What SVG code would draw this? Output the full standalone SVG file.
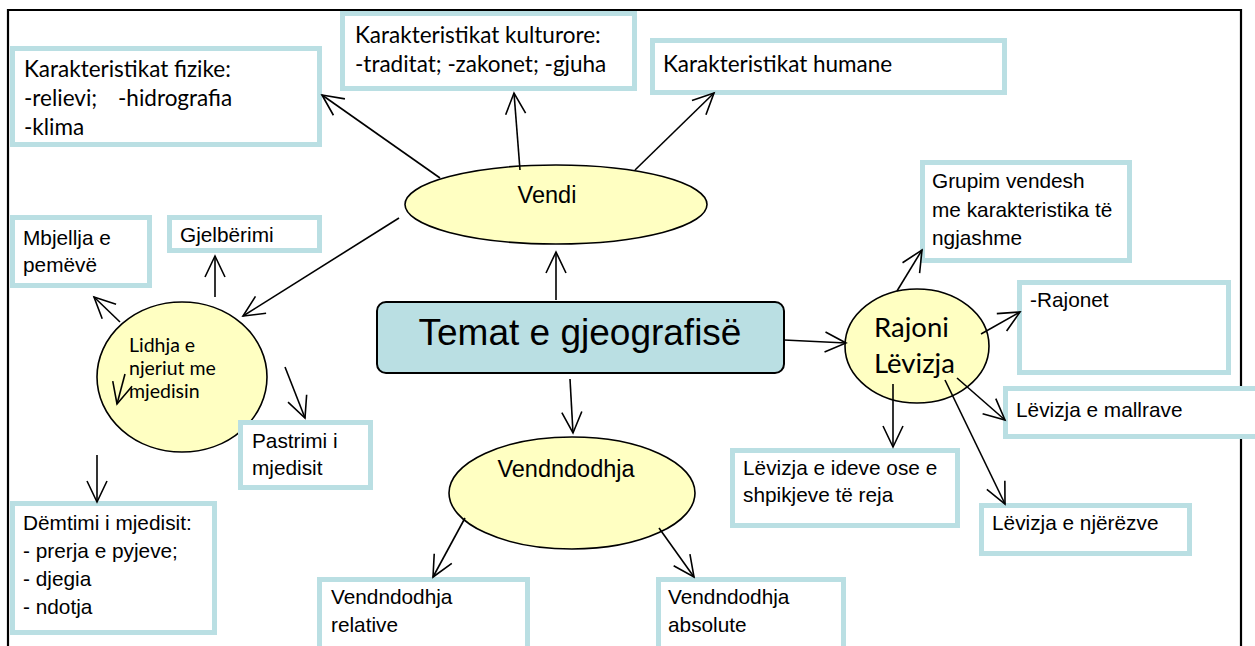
<svg xmlns="http://www.w3.org/2000/svg" width="1255" height="646" viewBox="0 0 1255 646">
<style>
.box{fill:#ffffff;stroke:#badfe3;stroke-width:5}
.ell{fill:#ffffc2;stroke:#000;stroke-width:1.6}
.ar{font-family:"Liberation Sans",Arial,sans-serif;fill:#000}
.ca{font-family:"Lato","Open Sans",sans-serif;fill:#000}
.con line{stroke:#000;stroke-width:1.6;fill:none}
.frame{stroke:#000;stroke-width:2.2;fill:none}
</style>
<defs>
<marker id="ah" markerUnits="userSpaceOnUse" markerWidth="30" markerHeight="30" refX="0" refY="0" orient="auto" overflow="visible">
<path d="M-21,-10 L0,0 L-21,10" fill="none" stroke="#000" stroke-width="1.6"/>
</marker>
</defs>
<rect width="1255" height="646" fill="#fff"/>
<path class="frame" d="M8,646 V10 H1241 V646"/>

<g id="n-fizike">
<rect class="box" x="12.5" y="48.5" width="307" height="96"/>
<text class="ca" font-size="22.5" x="24" y="77">Karakteristikat fizike:</text>
<text class="ca" font-size="22.5" y="106"><tspan x="24">-relievi;</tspan><tspan x="118">-hidrografia</tspan></text>
<text class="ca" font-size="22.5" x="24" y="135">-klima</text>
</g>
<g id="n-kulturore">
<rect class="box" x="342.5" y="13.5" width="292" height="75"/>
<text class="ca" font-size="22.5" x="355" y="43">Karakteristikat kulturore:</text>
<text class="ca" font-size="22.5" x="355" y="72">-traditat; -zakonet; -gjuha</text>
</g>
<g id="n-humane">
<rect class="box" x="652.5" y="40.5" width="352" height="52"/>
<text class="ca" font-size="22.5" x="663" y="72">Karakteristikat humane</text>
</g>
<g id="n-vendi">
<ellipse class="ell" cx="556" cy="204.5" rx="151" ry="39.5"/>
<text class="ar" font-size="23.5" x="547" y="203" text-anchor="middle">Vendi</text>
</g>
<g id="n-mbjellja">
<rect class="box" x="12.5" y="217.5" width="137" height="68"/>
<text class="ar" font-size="20.8" x="23" y="245">Mbjellja e</text>
<text class="ar" font-size="20.8" x="23" y="272">pemëvë</text>
</g>
<g id="n-gjelberimi">
<rect class="box" x="169.5" y="217.5" width="150" height="33"/>
<text class="ar" font-size="20.8" x="180" y="242">Gjelbërimi</text>
</g>
<g id="n-lidhja">
<ellipse class="ell" cx="182" cy="377" rx="85" ry="75"/>
<text class="ca" font-size="19.5" x="129" y="352">Lidhja e</text>
<text class="ca" font-size="19.5" x="129" y="375">njeriut me</text>
<text class="ca" font-size="19.5" x="129" y="398">mjedisin</text>
</g>
<g id="n-pastrimi">
<rect class="box" x="240.5" y="422.5" width="130" height="65"/>
<text class="ar" font-size="20.8" x="252" y="448">Pastrimi i</text>
<text class="ar" font-size="20.8" x="252" y="475">mjedisit</text>
</g>
<g id="n-demtimi">
<rect class="box" x="12.5" y="503.5" width="202" height="129"/>
<text class="ar" font-size="20.8" x="23" y="530">Dëmtimi i mjedisit:</text>
<text class="ar" font-size="20.8" x="23" y="558">- prerja e pyjeve;</text>
<text class="ar" font-size="20.8" x="23" y="586">- djegia</text>
<text class="ar" font-size="20.8" x="23" y="614">- ndotja</text>
</g>
<g id="n-temat">
<rect x="377" y="302" width="407" height="71" rx="9" fill="#badfe3" stroke="#000" stroke-width="2"/>
<text class="ar" font-size="37" x="580" y="345" text-anchor="middle">Temat e gjeografisë</text>
</g>
<g id="n-vendndodhja">
<ellipse class="ell" cx="572" cy="493" rx="123" ry="56"/>
<text class="ar" font-size="23.5" x="566" y="477" text-anchor="middle">Vendndodhja</text>
</g>
<g id="n-relative">
<rect class="box" x="319.5" y="579.5" width="208" height="80"/>
<text class="ar" font-size="20.8" x="331" y="604">Vendndodhja</text>
<text class="ar" font-size="20.8" x="331" y="632">relative</text>
</g>
<g id="n-absolute">
<rect class="box" x="658.5" y="579.5" width="185" height="80"/>
<text class="ar" font-size="20.8" x="668" y="604">Vendndodhja</text>
<text class="ar" font-size="20.8" x="668" y="632">absolute</text>
</g>
<g id="n-rajoni">
<ellipse class="ell" cx="917" cy="346" rx="72" ry="57"/>
<text class="ca" font-size="27.5" x="874" y="337">Rajoni</text>
<text class="ca" font-size="27.5" x="874" y="373">Lëvizja</text>
</g>
<g id="n-grupim">
<rect class="box" x="922.5" y="162.5" width="207" height="98"/>
<text class="ar" font-size="20.8" x="932" y="188">Grupim vendesh</text>
<text class="ar" font-size="20.8" x="932" y="217">me karakteristika të</text>
<text class="ar" font-size="20.8" x="932" y="245">ngjashme</text>
</g>
<g id="n-rajonet">
<rect class="box" x="1019.5" y="282.5" width="209" height="90"/>
<text class="ar" font-size="20.8" x="1030" y="307">-Rajonet</text>
</g>
<g id="n-mallrave">
<rect class="box" x="1005.5" y="388.5" width="260" height="48"/>
<text class="ar" font-size="20.8" x="1016" y="417">Lëvizja e mallrave</text>
</g>
<g id="n-ideve">
<rect class="box" x="732.5" y="450.5" width="225" height="75"/>
<text class="ar" font-size="20.8" x="743" y="475">Lëvizja e ideve ose e</text>
<text class="ar" font-size="20.8" x="743" y="502">shpikjeve të reja</text>
</g>
<g id="n-njerezve">
<rect class="box" x="981.5" y="505.5" width="208" height="48"/>
<text class="ar" font-size="20.8" x="992" y="530">Lëvizja e njërëzve</text>
</g>

<g id="connectors" class="con">
<line x1="440" y1="178" x2="322" y2="95" marker-end="url(#ah)"/>
<line x1="520" y1="170" x2="514" y2="93" marker-end="url(#ah)"/>
<line x1="635" y1="170" x2="714" y2="93" marker-end="url(#ah)"/>
<line x1="556" y1="300" x2="556" y2="252" marker-end="url(#ah)"/>
<line x1="399" y1="218" x2="243" y2="316" marker-end="url(#ah)"/>
<line x1="120" y1="322" x2="94" y2="297" marker-end="url(#ah)"/>
<line x1="215" y1="297" x2="215" y2="256" marker-end="url(#ah)"/>
<line x1="285" y1="367" x2="305" y2="418" marker-end="url(#ah)"/>
<line x1="97" y1="455" x2="97" y2="502" marker-end="url(#ah)"/>
<line x1="125" y1="374" x2="117" y2="404" marker-end="url(#ah)"/>
<line x1="570" y1="379" x2="573" y2="433" marker-end="url(#ah)"/>
<line x1="465" y1="518" x2="433" y2="577" marker-end="url(#ah)"/>
<line x1="659" y1="528" x2="694" y2="577" marker-end="url(#ah)"/>
<line x1="784" y1="340" x2="846" y2="343" marker-end="url(#ah)"/>
<line x1="897" y1="291" x2="922" y2="250" marker-end="url(#ah)"/>
<line x1="981" y1="334" x2="1020" y2="312" marker-end="url(#ah)"/>
<line x1="957" y1="378" x2="1005" y2="420" marker-end="url(#ah)"/>
<line x1="893" y1="384" x2="893" y2="447" marker-end="url(#ah)"/>
<line x1="945" y1="380" x2="1005" y2="504" marker-end="url(#ah)"/>
</g>
</svg>
